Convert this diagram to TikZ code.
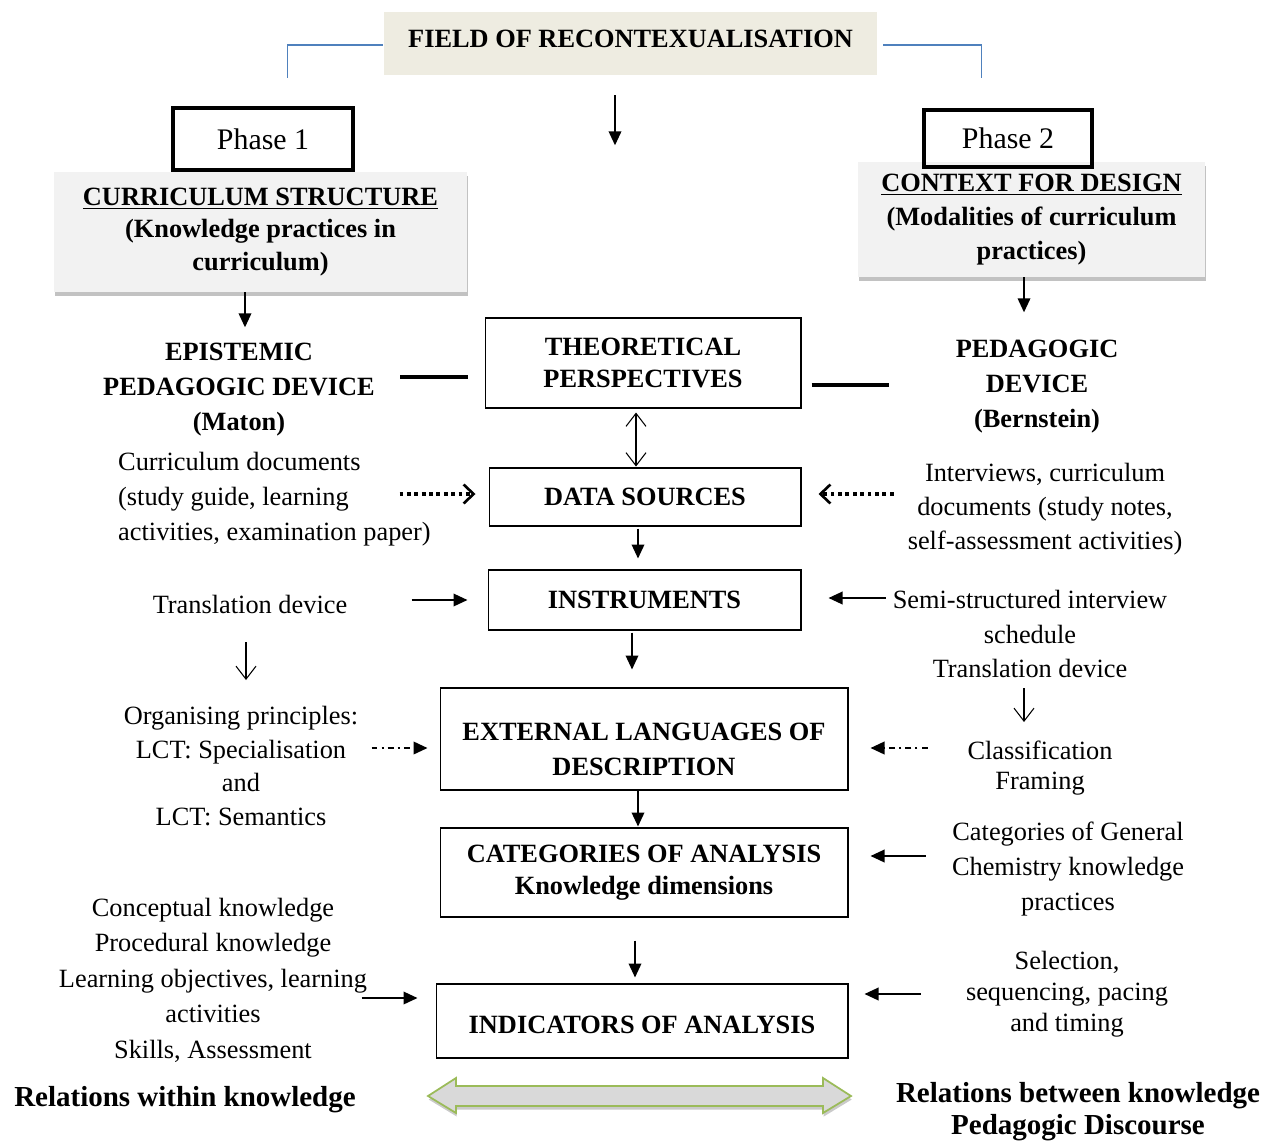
\documentclass[tikz,border=0pt]{standalone}
\usepackage{fontspec}
\setmainfont{Liberation Serif}
\usetikzlibrary{arrows.meta,shadows,positioning}

\definecolor{fieldbg}{HTML}{EEECE1}
\definecolor{headgray}{HTML}{F2F2F2}
\definecolor{linkblue}{HTML}{4F81BD}
\definecolor{bargreen}{HTML}{9BBB59}
\definecolor{barfill}{HTML}{D9D9D9}

\begin{document}
\begin{tikzpicture}[x=0.02cm, y=0.02cm,
  font=\fontsize{15}{19.9}\selectfont,
  box/.style={draw, rectangle, inner sep=0pt, line width=0.6pt, align=center,
              font=\fontsize{15}{18.5}\selectfont\bfseries},
  boxlbl/.style={align=center, font=\fontsize{15}{20}\selectfont\bfseries},
  phasebox/.style={draw, rectangle, inner sep=0pt, line width=2.3pt,
                   font=\fontsize{17}{20}\selectfont},
  headbox/.style={rectangle, inner sep=0pt, align=center, fill=headgray,
                  font=\fontsize{15}{18.5}\selectfont\bfseries,
                  drop shadow={shadow xshift=0.4pt, shadow yshift=-2pt, fill=black!60, opacity=0.4}},
  txt/.style={align=center},
  ttl/.style={align=center, font=\fontsize{15}{19.9}\selectfont\bfseries},
  arr/.style={-{Triangle[length=0.28cm,width=0.25cm]}, line width=1.1pt},
  openarr/.style={-{Straight Barb[length=0.26cm,width=0.4cm]}, line width=0.6pt},
  dblopen/.style={arrows={Straight Barb[length=0.26cm,width=0.4cm]-Straight Barb[length=0.26cm,width=0.4cm]}, line width=0.6pt},
  dotarr/.style={-{Straight Barb[length=0.2cm,width=0.38cm,line width=1.5pt]}, line width=2.2pt, dotted},
  dasharr/.style={-{Triangle[length=0.28cm,width=0.25cm]}, line width=1.2pt,
                  dash pattern=on 3.4pt off 2.3pt on 1.2pt off 2.3pt},
  link/.style={line width=2.2pt}
]
\useasboundingbox (0,0) rectangle (1266,-1142);

% Field and phases
\node[rectangle, fill=fieldbg, inner sep=0pt, minimum width=9.86cm, minimum height=1.26cm,
      font=\fontsize{15}{18}\selectfont\bfseries] (field) at (630.5,-43.5)
  {\raisebox{0.2cm}{FIELD OF RECONTEXUALISATION}};
\draw[linkblue, line width=0.8pt] (field.west) ++(-1,-1.5) -| ++(-95,-33);
\draw[linkblue, line width=0.8pt] (field.east) ++(6,-1.5) -| ++(98,-33);
\draw[arr] (field.south) ++(-15.5,-20) -- ++(0,-50);

\node[headbox, minimum width=8.26cm, minimum height=2.4cm] (cur) at (260.5,-232)
  {\underline{CURRICULUM STRUCTURE}\\(Knowledge practices in\\curriculum)};
\node[headbox, minimum width=6.94cm, minimum height=2.3cm, font=\fontsize{15}{19.2}\selectfont\bfseries] (ctx) at (1031.5,-219.5)
  {\underline{CONTEXT FOR DESIGN}\\(Modalities of curriculum\\practices)};
\node[phasebox, minimum width=3.6cm, minimum height=1.24cm] (ph1) at (263,-139) {Phase 1};
\node[phasebox, minimum width=3.36cm, minimum height=1.14cm] (ph2) at (1008,-138.5) {Phase 2};

% Central column
\node[box, minimum width=6.32cm, minimum height=1.8cm] (theo) at (643,-363) {THEORETICAL\\PERSPECTIVES};
\node[box, minimum width=6.24cm, minimum height=1.16cm] (data) at (645,-497) {DATA SOURCES};
\node[box, minimum width=6.26cm, minimum height=1.2cm] (instr) at (644.5,-600) {INSTRUMENTS};
\node[box, minimum width=8.16cm, minimum height=2.04cm,
      label={[boxlbl, yshift=-0.21cm]center:EXTERNAL LANGUAGES OF\\DESCRIPTION}] (ext) at (644,-739) {};
\node[box, minimum width=8.16cm, minimum height=1.78cm] (cat) at (644,-872.5) {CATEGORIES OF ANALYSIS\\Knowledge dimensions};
\node[box, minimum width=8.24cm, minimum height=1.48cm,
      label={[boxlbl, yshift=-0.08cm]center:INDICATORS OF ANALYSIS}] (ind) at (642,-1021) {};

% Left column
\node[ttl] (epis) at (239,-390) {EPISTEMIC\\PEDAGOGIC DEVICE\\(Maton)};
\node[txt, align=left, anchor=west] (curdoc) at (112,-499.5) {Curriculum documents\\(study guide, learning\\activities, examination paper)};
\node[txt] (trans) at (250,-604) {Translation device};
\node[txt, font=\fontsize{15}{19.2}\selectfont] (org) at (241,-766) {Organising principles:\\LCT: Specialisation\\and\\LCT: Semantics};
\node[txt, font=\fontsize{15}{20.2}\selectfont] (concept) at (213,-980) {Conceptual knowledge\\Procedural knowledge\\Learning objectives, learning\\activities\\Skills, Assessment};

% Right column
\node[ttl] (ped) at (1037,-386.5) {PEDAGOGIC\\DEVICE\\(Bernstein)};
\node[txt, font=\fontsize{15}{19.3}\selectfont] (intv) at (1045,-509.5) {Interviews, curriculum\\documents (study notes,\\self-assessment activities)};
\node[txt] (semi) at (1030,-634) {Semi-structured interview\\schedule\\Translation device};
\node[txt, font=\fontsize{15}{17}\selectfont] (clas) at (1040,-768) {Classification\\Framing};
\node[txt] (catgen) at (1068,-869) {Categories of General\\Chemistry knowledge\\practices};
\node[txt, font=\fontsize{15}{17.6}\selectfont] (sel) at (1067,-994) {Selection,\\sequencing, pacing\\and timing};

% Connectors
\draw[arr] (cur.south) ++(-15.5,0) -- ++(0,-35);
\draw[arr] (ctx.south) ++(-7.5,0) -- ++(0,-35);
\draw[link] (theo.west) ++(-17,-14) -- ++(-68,0);
\draw[link] (theo.east) ++(10,-22) -- ++(77,0);
\draw[dblopen] (theo.south) ++(-7,-4) -- ++(0,-54);
\draw[dotarr] (data.west) ++(-89,3) -- ++(76,0);
\draw[dotarr] (data.east) ++(92,3) -- ++(-75,0);
\draw[arr] (data.south) ++(-7,-2) -- ++(0,-30);
\draw[arr] (instr.west) ++(-76,0) -- ++(56,0);
\draw[arr] (instr.east) ++(84,2) -- ++(-57,0);
\draw[openarr] (trans.center) ++(-4,-38) -- ++(0,-38);
\draw[arr] (instr.south) ++(-12.5,-2) -- ++(0,-37);
\draw[openarr] (semi.center) ++(-6,-54) -- ++(0,-34);
\draw[dasharr] (ext.west) ++(-68,-9) -- ++(56,0);
\draw[dasharr] (ext.east) ++(79,-9) -- ++(-57,0);
\draw[arr] (ext.south) ++(-6,0) -- ++(0,-36);
\draw[arr] (cat.east) ++(77,16.5) -- ++(-55,0);
\draw[arr] (cat.south) ++(-9,-23) -- ++(0,-37);
\draw[arr] (ind.west) ++(-74,23) -- ++(56,0);
\draw[arr] (ind.east) ++(72,27) -- ++(-56,0);

% Bottom relations
\node[ttl, font=\fontsize{16.5}{18.2}\selectfont\bfseries] (rwithin) at (185,-1100) {Relations within knowledge};
\node[ttl, font=\fontsize{16.5}{18.2}\selectfont\bfseries] (rbetw) at (1078,-1112) {Relations between knowledge\\Pedagogic Discourse};
\draw[draw=bargreen, fill=barfill, line width=1pt,
      drop shadow={shadow xshift=0.4pt, shadow yshift=-2pt, fill=black!60, opacity=0.35}]
  (428,-1096) -- (456,-1078) -- (456,-1086) -- (823,-1086) -- (823,-1078) -- (851,-1096)
  -- (823,-1113) -- (823,-1106) -- (456,-1106) -- (456,-1113) -- cycle;
\end{tikzpicture}
\end{document}
